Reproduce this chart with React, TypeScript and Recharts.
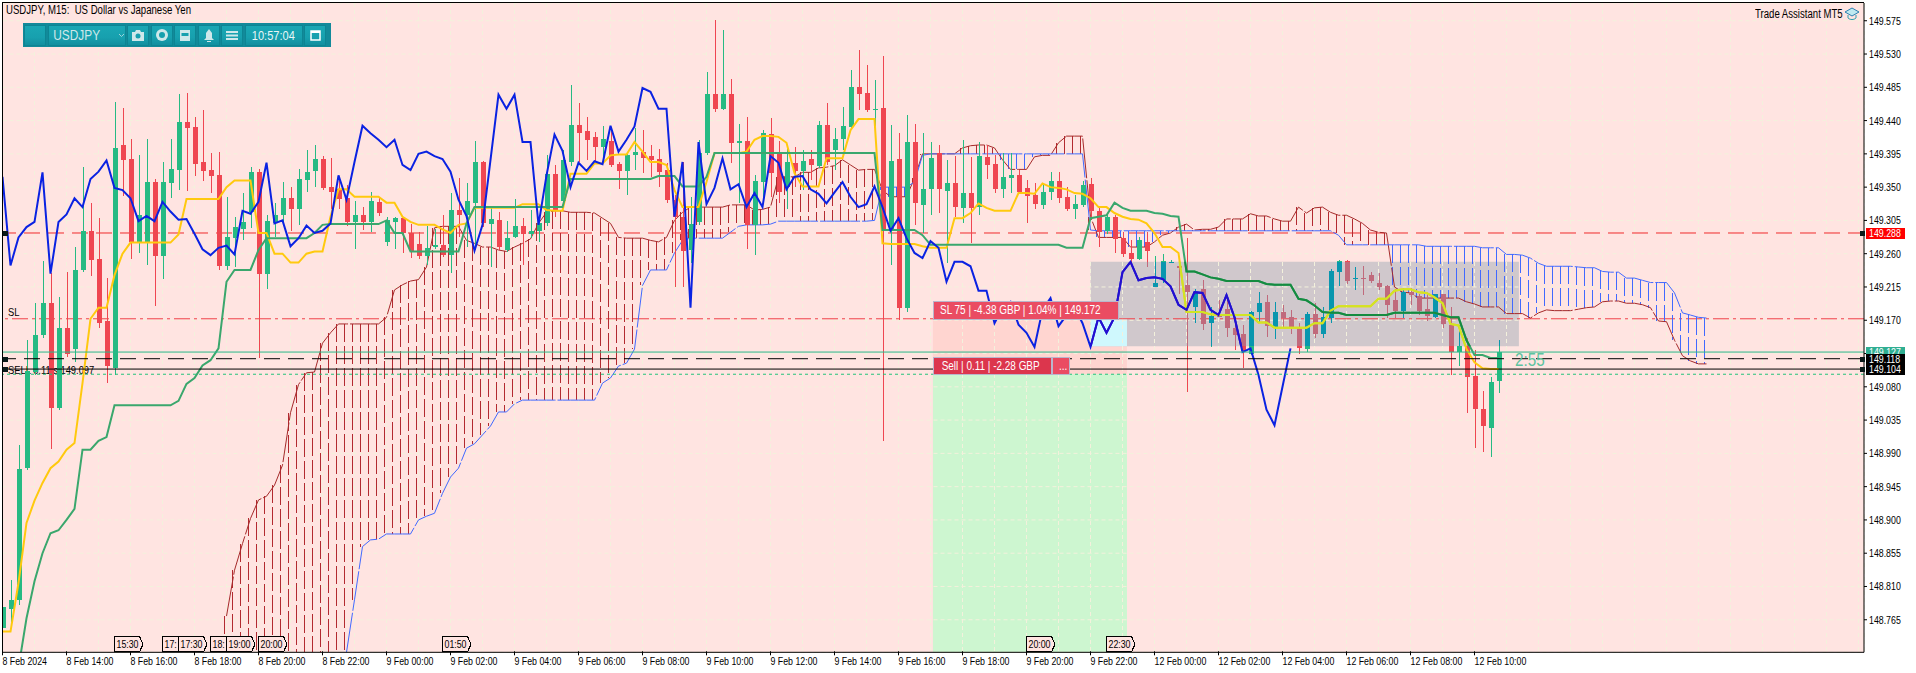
import {
  Bar,
  CartesianGrid,
  ComposedChart,
  Line,
  ReferenceArea,
  ReferenceDot,
  ReferenceLine,
  XAxis,
  YAxis,
} from "recharts";

// USDJPY M15, one entry per bar, bar 0 = 8 Feb 12:00
const opens = [
  148.754,148.779,148.792,148.970,149.100,149.150,149.193,149.051,149.160,149.131,
  149.238,149.291,149.253,149.169,149.105,149.407,149.388,149.276,149.276,149.357,
  149.257,149.355,149.373,149.438,149.431,149.384,149.373,149.366,149.243,149.281,
  149.293,149.316,149.370,149.232,149.301,149.312,149.335,149.321,149.359,149.372,
  149.388,149.350,149.347,149.335,149.303,149.312,149.303,149.330,149.276,149.303,
  149.308,149.288,149.273,149.257,149.269,149.272,149.258,149.319,149.312,149.329,
  149.384,149.300,149.305,149.265,149.282,149.297,149.287,149.291,149.301,149.368,
  149.331,149.384,149.434,149.426,149.418,149.404,149.413,149.381,149.372,149.394,
  149.398,149.392,149.388,149.373,149.333,149.310,149.265,149.303,149.396,149.476,
  149.456,149.476,149.410,149.412,149.299,149.357,149.422,149.398,149.350,149.382,
  149.372,149.388,149.378,149.434,149.400,149.415,149.431,149.485,149.477,149.454,
  149.457,149.292,149.388,149.187,149.411,149.326,149.347,149.396,149.345,149.355,
  149.322,149.342,149.323,149.391,149.381,149.347,149.362,149.366,149.349,149.339,
  149.326,149.344,149.358,149.337,149.321,149.326,149.354,149.318,149.291,149.310,
  149.281,149.261,149.253,149.276,149.215,149.224,149.248,149.244,149.217,149.188,
  149.212,149.166,149.178,149.185,149.160,149.151,149.125,149.181,149.195,149.161,
  149.181,149.174,149.161,149.131,149.178,149.151,149.173,149.235,149.250,149.227,
  149.227,149.231,149.221,149.216,149.198,149.182,149.208,149.203,149.185,149.174,
  149.205,149.163,149.127,149.135,149.095,149.050,149.024,149.088,
];
const closes = [
  148.782,148.792,148.969,149.101,149.150,149.193,149.051,149.160,149.124,149.238,
  149.291,149.251,149.166,149.108,149.403,149.387,149.276,149.313,149.357,149.257,
  149.357,149.374,149.438,149.430,149.381,149.372,149.365,149.243,149.282,149.296,
  149.303,149.370,149.232,149.304,149.313,149.335,149.321,149.361,149.370,149.388,
  149.349,149.344,149.334,149.303,149.312,149.303,149.331,149.315,149.305,149.308,
  149.288,149.263,149.257,149.268,149.272,149.258,149.319,149.313,149.331,149.384,
  149.301,149.307,149.269,149.281,149.298,149.286,149.291,149.301,149.368,149.319,
  149.387,149.434,149.423,149.414,149.404,149.415,149.380,149.372,149.394,149.398,
  149.390,149.387,149.370,149.332,149.310,149.264,149.300,149.396,149.476,149.456,
  149.476,149.410,149.413,149.299,149.358,149.423,149.369,149.343,149.384,149.372,
  149.385,149.380,149.434,149.384,149.415,149.433,149.485,149.476,149.454,149.456,
  149.292,149.385,149.187,149.411,149.328,149.347,149.389,149.347,149.355,149.323,
  149.342,149.322,149.392,149.380,149.347,149.364,149.366,149.344,149.338,149.327,
  149.344,149.358,149.335,149.321,149.327,149.353,149.318,149.289,149.310,149.280,
  149.259,149.253,149.278,149.264,149.221,149.250,149.249,149.240,149.208,149.208,
  149.165,149.176,149.175,149.160,149.150,149.128,149.181,149.193,149.162,149.181,
  149.173,149.159,149.132,149.178,149.151,149.174,149.236,149.250,149.223,149.227,
  149.226,149.223,149.215,149.190,149.182,149.208,149.204,149.182,149.176,149.205,
  149.165,149.127,149.135,149.093,149.050,149.027,149.087,149.127,
];
const highs = [
  148.782,148.819,149.001,149.143,149.193,149.250,149.234,149.201,149.235,149.269,
  149.377,149.329,149.308,149.227,149.465,149.457,149.415,149.393,149.415,149.361,
  149.384,149.415,149.476,149.477,149.445,149.454,149.396,149.398,149.336,149.309,
  149.342,149.377,149.374,149.312,149.329,149.357,149.350,149.374,149.400,149.407,
  149.392,149.389,149.359,149.353,149.331,149.323,149.343,149.335,149.309,149.310,
  149.310,149.300,149.289,149.297,149.294,149.312,149.342,149.362,149.355,149.412,
  149.385,149.323,149.316,149.304,149.334,149.308,149.319,149.311,149.393,149.380,
  149.400,149.488,149.464,149.445,149.425,149.433,149.432,149.384,149.396,149.430,
  149.427,149.407,149.401,149.382,149.339,149.384,149.336,149.414,149.506,149.576,
  149.562,149.496,149.436,149.445,149.366,149.427,149.443,149.413,149.404,149.404,
  149.400,149.400,149.440,149.464,149.430,149.458,149.508,149.535,149.515,149.495,
  149.527,149.434,149.423,149.447,149.436,149.423,149.411,149.407,149.387,149.392,
  149.414,149.391,149.411,149.407,149.393,149.396,149.396,149.373,149.359,149.355,
  149.355,149.370,149.370,149.350,149.339,149.358,149.362,149.322,149.312,149.312,
  149.289,149.278,149.282,149.289,149.257,149.260,149.251,149.248,149.281,149.212,
  149.224,149.188,149.197,149.200,149.174,149.163,149.183,149.208,149.204,149.195,
  149.190,149.184,149.166,149.181,149.193,149.188,149.239,149.252,149.252,149.242,
  149.243,149.235,149.234,149.217,149.212,149.213,149.213,149.205,149.206,149.206,
  149.206,149.188,149.163,149.146,149.130,149.074,149.093,149.143,
];
const lows = [
  148.754,148.757,148.785,148.968,149.096,149.146,148.996,149.049,149.120,149.113,
  149.235,149.230,149.160,149.085,149.096,149.338,149.253,149.261,149.245,149.189,
  149.226,149.335,149.346,149.345,149.365,149.358,149.342,149.238,149.238,149.242,
  149.278,149.295,149.119,149.212,149.282,149.302,149.291,149.299,149.343,149.350,
  149.346,149.321,149.321,149.297,149.266,149.292,149.289,149.311,149.270,149.266,
  149.261,149.254,149.253,149.245,149.267,149.256,149.234,149.282,149.269,149.265,
  149.296,149.242,149.265,149.262,149.281,149.245,149.281,149.276,149.298,149.309,
  149.330,149.378,149.384,149.387,149.384,149.387,149.377,149.347,149.340,149.373,
  149.369,149.364,149.350,149.329,149.215,149.215,149.247,149.299,149.393,149.452,
  149.454,149.382,149.329,149.267,149.258,149.337,149.337,149.329,149.321,149.350,
  149.346,149.360,149.376,149.380,149.373,149.400,149.427,149.454,149.452,149.427,
  149.007,149.245,149.170,149.181,149.299,149.288,149.312,149.315,149.247,149.310,
  149.301,149.274,149.312,149.361,149.342,149.335,149.342,149.342,149.301,149.321,
  149.321,149.332,149.329,149.318,149.307,149.323,149.310,149.269,149.286,149.261,
  149.255,149.249,149.251,149.242,149.215,149.220,149.247,149.206,149.073,149.166,
  149.157,149.135,149.175,149.147,149.130,149.105,149.123,149.166,149.147,149.145,
  149.160,149.152,149.125,149.127,149.146,149.146,149.166,149.216,149.219,149.211,
  149.204,149.220,149.211,149.173,149.173,149.173,149.190,149.177,149.169,149.173,
  149.159,149.096,149.108,149.045,148.997,148.992,148.985,149.072,
];

// Ichimoku lines
const tenkan = [
  148.749,148.749,148.815,148.896,148.926,148.950,148.970,148.979,148.995,149.004,
  149.085,149.172,149.187,149.187,149.231,149.260,149.275,149.275,149.275,149.275,
  149.275,149.275,149.286,149.334,149.334,149.334,149.334,149.334,149.350,149.359,
  149.359,149.359,149.288,149.288,149.260,149.260,149.248,149.248,149.260,149.263,
  149.263,149.310,149.347,149.347,149.337,149.337,149.337,149.337,149.329,149.329,
  149.310,149.303,149.299,149.299,149.299,149.293,149.288,149.299,149.301,149.322,
  149.322,149.322,149.322,149.322,149.322,149.327,149.327,149.327,149.319,149.318,
  149.318,149.368,149.368,149.368,149.382,149.382,149.393,149.394,149.394,149.411,
  149.398,149.384,149.384,149.380,149.346,149.323,149.323,149.323,149.357,149.396,
  149.396,149.396,149.396,149.398,149.414,149.419,149.419,149.418,149.410,149.369,
  149.351,149.351,149.351,149.389,149.389,149.389,149.427,149.442,149.442,149.442,
  149.274,149.273,149.273,149.273,149.273,149.270,149.268,149.268,149.268,149.308,
  149.308,149.315,149.328,149.322,149.318,149.318,149.318,149.342,149.342,149.341,
  149.355,149.350,149.349,149.347,149.342,149.341,149.335,149.323,149.323,149.315,
  149.310,149.307,149.306,149.301,149.288,149.269,149.269,149.261,149.181,149.181,
  149.181,149.178,149.177,149.177,149.177,149.177,149.177,149.167,149.167,149.160,
  149.160,149.160,149.160,149.160,149.166,149.166,149.183,149.189,149.189,149.189,
  149.189,149.189,149.199,149.199,149.210,149.212,149.212,149.208,149.207,149.201,
  149.193,149.165,149.163,149.131,149.113,149.105,149.104,149.104,
];
const kijun = [
  null,null,148.700,148.767,148.817,148.855,148.882,148.886,148.900,148.915,
  148.995,148.995,149.007,149.012,149.055,149.055,149.055,149.055,149.055,149.055,
  149.055,149.055,149.061,149.084,149.092,149.109,149.116,149.132,149.222,149.238,
  149.238,149.238,149.265,149.281,149.281,149.281,149.281,149.281,149.281,149.288,
  149.299,149.300,149.300,149.300,149.300,149.300,149.300,149.300,149.305,149.288,
  149.288,149.263,149.263,149.263,149.263,149.263,149.263,149.263,149.301,149.323,
  149.323,149.323,149.323,149.323,149.323,149.323,149.323,149.323,149.323,149.323,
  149.323,149.361,149.361,149.361,149.361,149.361,149.361,149.361,149.361,149.361,
  149.361,149.361,149.365,149.365,149.365,149.351,149.351,149.351,149.364,149.396,
  149.396,149.396,149.396,149.396,149.396,149.396,149.396,149.396,149.396,149.396,
  149.396,149.396,149.396,149.396,149.396,149.396,149.396,149.396,149.396,149.396,
  149.292,149.292,149.292,149.292,149.292,149.285,149.272,149.272,149.272,149.272,
  149.272,149.272,149.272,149.272,149.272,149.272,149.272,149.272,149.272,149.272,
  149.272,149.272,149.272,149.268,149.268,149.268,149.308,149.310,149.312,149.329,
  149.322,149.318,149.318,149.318,149.315,149.314,149.311,149.310,149.236,149.236,
  149.232,149.228,149.226,149.223,149.223,149.223,149.223,149.223,149.219,149.218,
  149.218,149.218,149.199,149.197,149.190,149.181,149.180,149.180,149.177,149.177,
  149.177,149.177,149.177,149.177,149.180,149.180,149.180,149.180,149.180,149.180,
  149.177,149.174,149.174,149.143,149.123,149.123,149.119,149.119,
];
const chikou = [
  149.364,149.244,149.282,149.296,149.303,149.370,149.233,149.303,149.313,149.335,
  149.323,149.361,149.371,149.386,149.349,149.346,149.335,149.304,149.311,149.304,
  149.330,149.317,149.306,149.307,149.287,149.266,149.258,149.268,149.271,149.259,
  149.318,149.314,149.330,149.383,149.301,149.305,149.270,149.281,149.298,149.288,
  149.291,149.301,149.366,149.333,149.384,149.433,149.423,149.414,149.404,149.414,
  149.380,149.373,149.395,149.398,149.392,149.388,149.371,149.333,149.311,149.264,
  149.299,149.387,149.475,149.456,149.475,149.411,149.411,149.299,149.366,149.421,
  149.399,149.350,149.383,149.372,149.385,149.381,149.433,149.398,149.414,149.432,
  149.484,149.479,149.456,149.456,149.310,149.384,149.187,149.411,149.327,149.349,
  149.389,149.347,149.354,149.323,149.342,149.323,149.392,149.383,149.347,149.364,
  149.365,149.347,149.341,149.328,149.343,149.357,149.337,149.323,149.327,149.351,
  149.323,149.291,149.308,149.281,149.261,149.254,149.277,149.268,149.222,149.249,
  149.249,149.243,149.210,149.210,149.166,149.187,149.195,149.164,149.153,149.134,
  149.184,149.200,149.162,149.177,149.188,149.166,149.134,149.174,149.153,149.174,
  149.235,149.249,149.224,149.227,149.228,149.226,149.216,149.191,149.184,149.208,
  149.207,149.184,149.177,149.204,149.174,149.127,149.132,149.096,149.049,149.028,
  149.080,149.132,
];
const senkouRed = [
  null,null,null,null,null,null,null,null,null,null,
  null,null,null,null,null,null,null,null,null,null,
  null,null,null,null,null,null,null,null,148.770,148.832,
  148.868,148.902,148.927,148.932,148.947,148.974,149.045,149.083,149.099,149.100,
  149.139,149.153,149.165,149.165,149.165,149.165,149.165,149.165,149.174,149.211,
  149.218,149.223,149.225,149.242,149.295,149.297,149.297,149.297,149.278,149.274,
  149.269,149.269,149.265,149.263,149.269,149.274,149.280,149.301,149.316,149.318,
  149.318,149.316,149.316,149.316,149.315,149.308,149.301,149.282,149.281,149.281,
  149.281,149.278,149.276,149.282,149.305,149.316,149.323,149.323,149.323,149.323,
  149.323,149.326,149.326,149.326,149.319,149.320,149.323,149.364,149.364,149.364,
  149.370,149.370,149.376,149.377,149.379,149.387,149.380,149.373,149.374,149.374,
  149.346,149.337,149.337,149.337,149.362,149.395,149.395,149.395,149.395,149.395,
  149.403,149.406,149.407,149.407,149.403,149.387,149.374,149.374,149.374,149.391,
  149.393,149.393,149.410,149.419,149.419,149.419,149.310,149.282,149.282,149.282,
  149.282,149.269,149.269,149.269,149.276,149.285,149.288,149.296,149.300,149.292,
  149.293,149.293,149.296,149.307,149.307,149.307,149.314,149.311,149.311,149.307,
  149.304,149.304,149.323,149.315,149.322,149.323,149.316,149.312,149.312,149.307,
  149.301,149.292,149.289,149.288,149.215,149.208,149.207,149.200,149.200,149.200,
  149.200,149.200,149.200,149.195,149.192,149.188,149.188,149.188,149.179,149.179,
  149.179,149.173,149.180,149.184,149.183,149.183,149.183,149.185,149.187,149.188,
  149.195,149.196,149.196,149.193,149.193,149.191,149.187,149.169,149.168,149.143,
  149.122,149.115,149.111,149.111,
];
const senkouBlue = [
  null,null,null,null,null,null,null,null,null,null,
  null,null,null,null,null,null,null,null,null,null,
  null,null,null,null,null,null,null,null,null,null,
  null,null,null,null,null,null,null,null,null,null,
  null,null,null,148.721,148.792,148.864,148.873,148.874,148.881,148.881,
  148.881,148.881,148.900,148.905,148.909,148.936,148.958,148.970,148.997,149.003,
  149.015,149.027,149.046,149.046,149.057,149.062,149.062,149.062,149.062,149.062,
  149.062,149.062,149.062,149.062,149.062,149.085,149.092,149.108,149.112,149.131,
  149.217,149.238,149.238,149.238,149.261,149.278,149.281,149.281,149.281,149.281,
  149.281,149.289,149.297,149.299,149.299,149.299,149.300,149.304,149.304,149.304,
  149.304,149.304,149.304,149.304,149.304,149.304,149.304,149.304,149.304,149.305,
  149.350,149.350,149.350,149.350,149.357,149.393,149.395,149.395,149.395,149.395,
  149.395,149.395,149.395,149.395,149.395,149.395,149.395,149.395,149.395,149.395,
  149.395,149.395,149.395,149.395,149.395,149.395,149.292,149.291,149.291,149.291,
  149.291,149.291,149.291,149.291,149.291,149.291,149.291,149.291,149.291,149.291,
  149.291,149.291,149.291,149.291,149.291,149.291,149.291,149.291,149.291,149.291,
  149.291,149.291,149.291,149.291,149.291,149.291,149.291,149.285,149.272,149.272,
  149.272,149.272,149.272,149.272,149.272,149.272,149.272,149.272,149.270,149.270,
  149.270,149.270,149.270,149.270,149.270,149.268,149.268,149.268,149.259,149.259,
  149.258,149.254,149.247,149.243,149.243,149.243,149.243,149.242,149.241,149.241,
  149.236,149.235,149.235,149.227,149.227,149.224,149.221,149.221,149.221,149.207,
  149.180,149.177,149.174,149.173,
];

const priceTicks = [
  149.575,149.53,149.485,149.44,149.395,149.35,149.305,149.26,149.215,149.17,
  149.125,149.08,149.035,148.99,148.945,148.9,148.855,148.81,148.765,
];
const timeLabels = [
  "8 Feb 2024","8 Feb 14:00","8 Feb 16:00","8 Feb 18:00","8 Feb 20:00","8 Feb 22:00",
  "9 Feb 00:00","9 Feb 02:00","9 Feb 04:00","9 Feb 06:00","9 Feb 08:00","9 Feb 10:00",
  "9 Feb 12:00","9 Feb 14:00","9 Feb 16:00","9 Feb 18:00","9 Feb 20:00","9 Feb 22:00",
  "12 Feb 00:00","12 Feb 02:00","12 Feb 04:00","12 Feb 06:00","12 Feb 08:00","12 Feb 10:00",
];
const flagBars = [14, 20, 22, 26, 28, 32, 55, 128, 138];
const flagTimes = ["15:30", "17:", "17:30", "18:", "19:00", "20:00", "01:50", "20:00", "22:30"];

const W = 1916;
const H = 673;
const PLOT_L = 2.5;
const PLOT_R = 1864;
const PLOT_T = 3;
const PLOT_B = 652.3;
const BAR_STEP = 8;
const Y_MAX = 149.599;
const Y_MIN = 148.721;
const X_MAX = (PLOT_R - PLOT_L) / BAR_STEP;

const BULL = "#26ba83";
const BEAR = "#ef4651";
const TENKAN = "#ffc90e";
const KIJUN = "#3aa76d";
const CHIKOU = "#0a22e2";
const FONT = "'Liberation Sans', Arial, sans-serif";

// the grey box on the MT5 chart is drawn with xor against whatever is under it
const BOX = { x1: 136, x2: 189.55, high: 149.249, low: 149.135 };
const ZONE = { x1: 116.3, x2: 140.56, sl: 149.172, entry: 149.097 };
const BOX_KEY = [47, 44, 45];
const xor = (hex: string) => {
  const n = parseInt(hex.slice(1), 16);
  const c = [(n >> 16) & 255, (n >> 8) & 255, n & 255].map((v, i) => v ^ BOX_KEY[i]);
  return `rgb(${c[0]},${c[1]},${c[2]})`;
};

const xOf = (i: number) => PLOT_L + i * BAR_STEP;
const yOf = (p: number) => PLOT_T + ((Y_MAX - p) / (Y_MAX - Y_MIN)) * (PLOT_B - PLOT_T);

const rows = senkouRed.map((red, i) => {
  const blue = senkouBlue[i];
  const hasBar = i < opens.length;
  return {
    i,
    open: hasBar ? opens[i] : null,
    close: hasBar ? closes[i] : null,
    high: hasBar ? highs[i] : null,
    low: hasBar ? lows[i] : null,
    range: hasBar ? [lows[i], highs[i]] : null,
    tenkan: tenkan[i] ?? null,
    kijun: kijun[i] ?? null,
    chikou: chikou[i] ?? null,
    red,
    blue,
    hatch: red == null ? null : [Math.min(red, blue ?? Y_MIN), Math.max(red, blue ?? Y_MIN)],
  };
});

// cut a price span at the box edges, so the part inside can take the xor colour
function pieces(i: number, hi: number, lo: number) {
  if (i < BOX.x1 || i > BOX.x2) return [{ hi, lo, inBox: false }];
  const cuts = [hi, lo, BOX.high, BOX.low].filter((v) => v <= hi && v >= lo).sort((a, b) => b - a);
  const out: { hi: number; lo: number; inBox: boolean }[] = [];
  for (let n = 0; n < cuts.length - 1; n++) {
    const mid = (cuts[n] + cuts[n + 1]) / 2;
    out.push({ hi: cuts[n], lo: cuts[n + 1], inBox: mid < BOX.high && mid > BOX.low });
  }
  if (out.length === 0) out.push({ hi, lo, inBox: hi < BOX.high && hi > BOX.low });
  return out;
}

function Candle(props: any) {
  const { x, y, width, height, payload: d } = props;
  if (d.open == null) return null;
  const span = d.high - d.low;
  const k = span > 0 ? height / span : 0;
  const toY = (v: number) => y + (d.high - v) * k;
  const cx = Math.round(x + width / 2);
  const up = d.close >= d.open;
  const base = up ? BULL : BEAR;
  const tint = (inBox: boolean) => (inBox ? xor(base) : base);
  const top = Math.max(d.open, d.close);
  const bottom = Math.min(d.open, d.close);
  return (
    <g shapeRendering="crispEdges">
      {pieces(d.i, d.high, d.low).map((s, n) => (
        <rect key={n} x={cx} y={toY(s.hi)} width={1} height={Math.max(toY(s.lo) - toY(s.hi), 0.5)} fill={tint(s.inBox)} />
      ))}
      {pieces(d.i, top, bottom).map((s, n) => (
        <rect
          key={n}
          x={cx - 2}
          y={toY(s.hi)}
          width={5}
          height={Math.max(toY(s.lo) - toY(s.hi), 1)}
          fill={tint(s.inBox)}
        />
      ))}
    </g>
  );
}

function Hatch(props: any) {
  const { x, y, width, height, payload: d } = props;
  if (d.hatch == null) return null;
  const cx = Math.round(x + width / 2) + 0.5;
  const isRed = d.blue == null || d.red >= d.blue;
  return (
    <line
      x1={cx}
      x2={cx}
      y1={y}
      y2={y + height}
      stroke={isRed ? "#b22a30" : "#4169ff"}
      strokeDasharray="18 4"
      shapeRendering="crispEdges"
    />
  );
}

function TimeTick(props: any) {
  const { x, y, payload } = props;
  const n = payload.value / 8;
  if (!Number.isInteger(n) || n >= timeLabels.length) return null;
  return (
    <g>
      <line x1={x} x2={x} y1={y - 1} y2={y + 3} stroke="#000" />
      <text transform={`translate(${x},${y + 13}) scale(0.8,1)`} fontSize={11} fontFamily={FONT} fill="#000">
        {timeLabels[n]}
      </text>
    </g>
  );
}

function PriceTick(props: any) {
  const { x, y, payload } = props;
  return (
    <g>
      <line x1={x} x2={x + 3} y1={y} y2={y} stroke="#000" />
      <text transform={`translate(${x + 5},${y + 4}) scale(0.8,1)`} fontSize={11} fontFamily={FONT} fill="#000">
        {payload.value.toFixed(3)}
      </text>
    </g>
  );
}

function Flag(props: any) {
  const { cx, cy, label } = props;
  const l = cx;
  const b = cy;
  return (
    <g>
      <path
        d={`M${l} ${b}V${b - 16}H${l + 25}L${l + 28.5} ${b - 8}L${l + 25} ${b - 0.5}H${l}`}
        fill="#ffe4e1"
        stroke="#000"
        shapeRendering="crispEdges"
      />
      <text transform={`translate(${l + 2},${b - 4}) scale(0.8,1)`} fontSize={11} fontFamily={FONT} fill="#000">
        {label}
      </text>
    </g>
  );
}

function LineText(props: any) {
  const { cx, cy, label } = props;
  return (
    <text transform={`translate(${cx},${cy}) scale(0.85,1)`} fontSize={11} fontFamily={FONT} fill="#000">
      {label}
    </text>
  );
}

const priceTags = [
  { price: 149.288, bg: "#ff0000", color: "#fff" },
  { price: 149.127, bg: "#2fae92", color: "#fff" },
  { price: 149.118, bg: "#000", color: "#fff" },
  { price: 149.104, bg: "#000", color: "#fff" },
];

function Tag({ left, top, width, height, bg, children }: any) {
  return (
    <div
      style={{
        position: "absolute",
        left,
        top,
        width,
        height,
        background: bg,
        border: "1px solid #b9b6cc",
        boxSizing: "border-box",
        color: "#fff",
        font: `12px ${FONT}`,
        lineHeight: `${height - 2}px`,
        whiteSpace: "nowrap",
        overflow: "hidden",
      }}
    >
      <span style={{ display: "inline-block", transform: "scaleX(0.83)", transformOrigin: "0 50%", marginLeft: 6 }}>
        {children}
      </span>
    </div>
  );
}

function ToolCell({ width, children }: any) {
  return (
    <div
      style={{
        width,
        height: 21,
        marginRight: 1.5,
        border: "1px solid #0d8593",
        boxSizing: "border-box",
        background: "linear-gradient(#1aa7b4,#17a0ae 60%,#128f9f)",
        color: "#d9f0f2",
        display: "flex",
        alignItems: "center",
        justifyContent: "center",
        flex: "none",
      }}
    >
      {children}
    </div>
  );
}

function Toolbar() {
  const ink = "#cfe8ea";
  return (
    <div
      style={{
        position: "absolute",
        left: 23,
        top: 23,
        width: 308,
        height: 24,
        background: "#128a9a",
        display: "flex",
        alignItems: "center",
        paddingLeft: 1,
        boxSizing: "border-box",
        overflow: "hidden",
      }}
    >
      <ToolCell width={22} />
      <ToolCell width={78}>
        <span style={{ color: ink, font: `14px ${FONT}`, transform: "scaleX(0.85)", marginRight: 14 }}>USDJPY</span>
        <svg width="7" height="5"><path d="M1 1l2.500 2.500L6 1" fill="none" stroke="#9fd4da" /></svg>
      </ToolCell>
      <ToolCell width={22}>
        <svg width="14" height="14"><path d="M1 4h3l1-2h4l1 2h3v9H1z" fill={ink} /><circle cx="7" cy="8" r="2.5" fill="#17a0ae" /></svg>
      </ToolCell>
      <ToolCell width={22}>
        <svg width="14" height="14"><circle cx="7" cy="7" r="6" fill={ink} /><circle cx="7" cy="7" r="3" fill="#17a0ae" /></svg>
      </ToolCell>
      <ToolCell width={22}>
        <svg width="14" height="14"><path d="M2 2h10v11H2z" fill={ink} /><path d="M3.500 5h7v3h-7z" fill="#17a0ae" /></svg>
      </ToolCell>
      <ToolCell width={22}>
        <svg width="14" height="15"><path d="M7 1l3 4v5l2 2H2l2-2V5z" fill={ink} /><path d="M5 13h4v1H5z" fill={ink} /></svg>
      </ToolCell>
      <ToolCell width={22}>
        <svg width="14" height="14"><path d="M1 3h12v2H1zM1 6.500h12v2H1zM1 10h12v2H1z" fill={ink} /></svg>
      </ToolCell>
      <ToolCell width={58}>
        <span style={{ color: "#e8f6f7", font: `13px ${FONT}`, transform: "scaleX(0.85)" }}>10:57:04</span>
      </ToolCell>
      <ToolCell width={22}>
        <svg width="11" height="11"><path d="M1 1h9v9H1z" fill="none" stroke="#fff" strokeWidth="1.500" /><path d="M1 1h9v2H1z" fill="#fff" /></svg>
      </ToolCell>
    </div>
  );
}

export default function App() {
  return (
    <div style={{ position: "absolute", left: 0, top: 0, width: W, height: H, overflow: "hidden", background: "#fff" }}>
      <style>{`.in-box { clip-path: url(#boxClip); }`}</style>
      <svg width="0" height="0" style={{ position: "absolute" }}>
        <defs>
          <clipPath id="boxClip" clipPathUnits="userSpaceOnUse">
            <rect x={xOf(BOX.x1)} y={yOf(BOX.high)} width={xOf(BOX.x2) - xOf(BOX.x1)} height={yOf(BOX.low) - yOf(BOX.high)} />
          </clipPath>
        </defs>
      </svg>
      <ComposedChart
        width={W}
        height={H}
        data={rows}
        barGap={0}
        margin={{ top: PLOT_T, right: 0, bottom: 0, left: PLOT_L }}
      >
        <XAxis
          dataKey="i"
          type="number"
          scale="linear"
          domain={[0, X_MAX]}
          allowDataOverflow
          ticks={Array.from({ length: 59 }, (_, n) => n * 4)}
          interval={0}
          height={H - PLOT_B}
          tickLine={false}
          tickSize={0}
          tickMargin={0}
          axisLine={{ stroke: "#000" }}
          tick={<TimeTick />}
        />
        <YAxis
          orientation="right"
          domain={[Y_MIN, Y_MAX]}
          allowDataOverflow
          ticks={priceTicks}
          interval={0}
          width={W - PLOT_R}
          tickLine={false}
          tickSize={0}
          tickMargin={0}
          axisLine={{ stroke: "#000" }}
          tick={<PriceTick />}
        />

        <ReferenceArea zIndex={-300} x1={0} x2={X_MAX} y1={Y_MIN} y2={Y_MAX} fill="#ffe4e1" fillOpacity={1} stroke="none" />
        <ReferenceArea zIndex={-250} x1={ZONE.x1} x2={ZONE.x2} y1={ZONE.entry} y2={ZONE.sl} fill="#ffd5d0" fillOpacity={1} stroke="none" />
        <ReferenceArea zIndex={-250} x1={ZONE.x1} x2={ZONE.x2} y1={Y_MIN} y2={ZONE.entry} fill="#cdf6d0" fillOpacity={1} stroke="none" />
        <ReferenceArea zIndex={-240} x1={BOX.x1} x2={BOX.x2} y1={BOX.low} y2={BOX.high} fill="#d0c8cc" fillOpacity={1} stroke="none" />
        <ReferenceArea zIndex={-230} x1={BOX.x1} x2={ZONE.x2} y1={BOX.low} y2={ZONE.sl} fill="#cff8fd" fillOpacity={1} stroke="none" />
        <CartesianGrid stroke="#f3f1dc" strokeDasharray="4 3" />

        <ReferenceLine zIndex={50} y={149.288} stroke="#ef2b2b" strokeDasharray="16 8" />
        <ReferenceLine zIndex={50} y={149.172} stroke="#f0424a" strokeDasharray="16 4 3 4" />
        <ReferenceDot zIndex={60} x={0.7} y={149.176} r={0} ifOverflow="visible" shape={<LineText label="SL" />} />
        <ReferenceDot zIndex={60} x={0.7} y={149.097} r={0} ifOverflow="visible" shape={<LineText label="SELL 0.11 s 149.097" />} />

        <Bar zIndex={100} dataKey="hatch" barSize={1} shape={<Hatch />} isAnimationActive={false} />
        <Line zIndex={110} dataKey="red" stroke="#a52a2a" strokeWidth={1} dot={false} isAnimationActive={false} strokeDasharray="40 2" />
        <Line zIndex={110} dataKey="blue" stroke="#4169ff" strokeWidth={1} dot={false} isAnimationActive={false} strokeDasharray="40 2" />

        <Bar zIndex={300} dataKey="range" barSize={5} shape={<Candle />} isAnimationActive={false} />

        <Line dataKey="tenkan" stroke={TENKAN} strokeWidth={2} dot={false} isAnimationActive={false} />
        <Line dataKey="kijun" stroke={KIJUN} strokeWidth={2} dot={false} isAnimationActive={false} />
        <Line dataKey="chikou" stroke={CHIKOU} strokeWidth={2} dot={false} isAnimationActive={false} />
        <Line className="in-box" dataKey="tenkan" stroke={xor(TENKAN)} strokeWidth={2} dot={false} isAnimationActive={false} />
        <Line className="in-box" dataKey="kijun" stroke={xor(KIJUN)} strokeWidth={2} dot={false} isAnimationActive={false} />
        <Line className="in-box" dataKey="chikou" stroke={xor(CHIKOU)} strokeWidth={2} dot={false} isAnimationActive={false} />

        <ReferenceLine zIndex={420} y={149.127} stroke="#2cb98a" />
        <ReferenceLine zIndex={420} y={149.118} stroke="#000" strokeDasharray="16 8" />
        <ReferenceLine zIndex={420} y={149.104} stroke="#000" />
        <ReferenceLine zIndex={420} y={149.097} stroke="#22c27b" strokeDasharray="3 3" />

        {flagBars.map((bar, n) => (
          <ReferenceDot key={n} x={bar} y={Y_MIN} r={0} ifOverflow="visible" shape={<Flag label={flagTimes[n]} />} />
        ))}
      </ComposedChart>

      {/* frame */}
      <div style={{ position: "absolute", left: 2, top: 2, width: PLOT_R - 2, height: 1, background: "#000" }} />
      <div style={{ position: "absolute", left: 2, top: 2, width: 1, height: PLOT_B - 2, background: "#000" }} />

      {/* price tags */}
      {priceTags.map((t) => (
        <div
          key={t.price}
          style={{
            position: "absolute",
            left: PLOT_R + 2,
            top: yOf(t.price) - 5,
            width: 39,
            height: 11,
            background: t.bg,
            color: t.color,
            font: `11px ${FONT}`,
            lineHeight: "11px",
            paddingLeft: 3,
            boxSizing: "border-box",
            whiteSpace: "nowrap",
          }}
        >
          <span style={{ display: "inline-block", transform: "scaleX(0.8)", transformOrigin: "0 50%" }}>{t.price.toFixed(3)}</span>
        </div>
      ))}
      {[149.288, 149.118, 149.104].map((p) => (
        <div key={p} style={{ position: "absolute", left: PLOT_R - 4, top: yOf(p) - 2, width: 5, height: 5, background: "#0a1a1a" }} />
      ))}
      {[149.288, 149.118, 149.104].map((p) => (
        <div key={p} style={{ position: "absolute", left: 3, top: yOf(p) - 2, width: 5, height: 5, background: "#0a1a1a" }} />
      ))}

      {/* texts over the chart */}
      <div style={{ position: "absolute", left: 6, top: 3, font: `12px ${FONT}`, whiteSpace: "pre", transform: "scaleX(0.8)", transformOrigin: "0 0" }}>
        USDJPY, M15:  US Dollar vs Japanese Yen
      </div>
      <div style={{ position: "absolute", left: 1755, top: 7, font: `12px ${FONT}`, whiteSpace: "pre", transform: "scaleX(0.8)", transformOrigin: "0 0" }}>
        Trade Assistant MT5
      </div>
      <svg style={{ position: "absolute", left: 1844, top: 7 }} width="16" height="14">
        <path d="M1 5L8 1L15 5L8 9Z" fill="#bfe9f0" stroke="#2a7fb0" />
        <path d="M4 8v3c2 2 6 2 8 0V8" fill="none" stroke="#2a9fb0" />
      </svg>
      <div
        style={{
          position: "absolute",
          left: 1515,
          top: 349,
          font: `19px ${FONT}`,
          color: "#5cc39f",
          whiteSpace: "pre",
          transform: "scaleX(0.8)",
          transformOrigin: "0 0",
        }}
      >
        2:55
      </div>

      <Tag left={933} top={301} width={186} height={19} bg="#ea4c62">
        SL 75 | -4.38 GBP | 1.04% | 149.172
      </Tag>
      <Tag left={933} top={357} width={119} height={18} bg="#dc364d">
        <span style={{ marginLeft: 2 }}>Sell | 0.11 | -2.28 GBP</span>
      </Tag>
      <Tag left={1052} top={357} width={18} height={18} bg="#ea4c62">
        ...
      </Tag>

      <Toolbar />
    </div>
  );
}
